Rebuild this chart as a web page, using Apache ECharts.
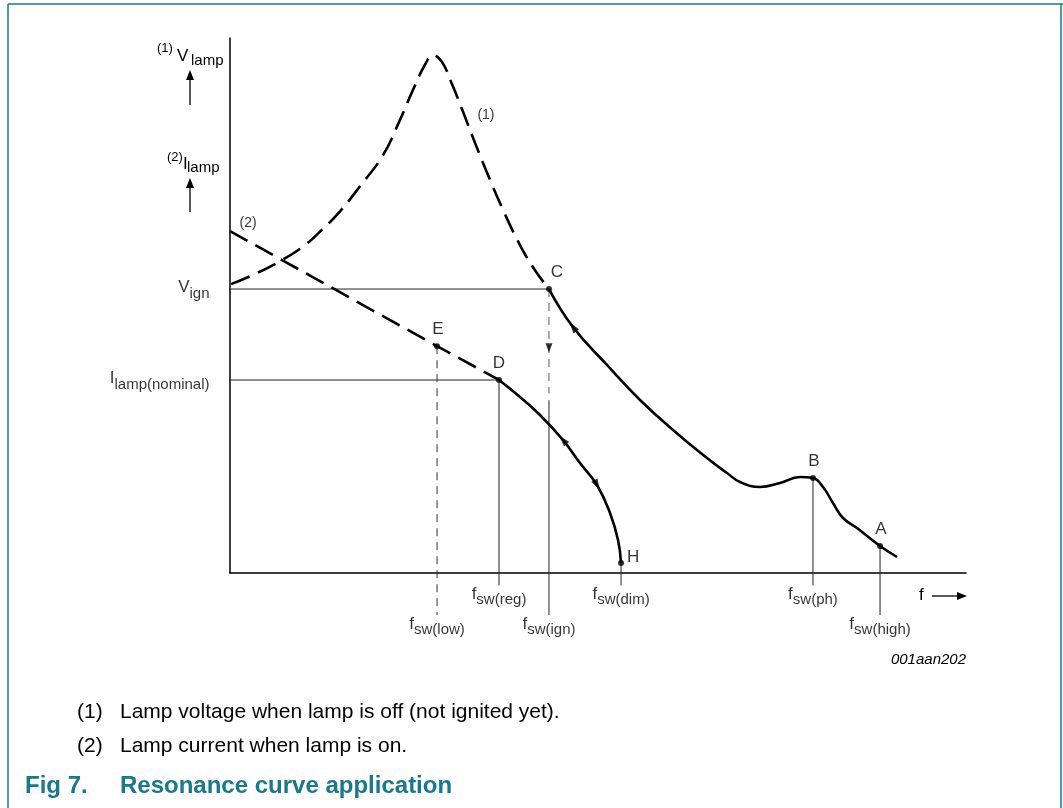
<!DOCTYPE html>
<html><head><meta charset="utf-8">
<script src="https://cdn.jsdelivr.net/npm/echarts@6/dist/echarts.min.js"></script>
<style>html,body{margin:0;padding:0;background:#fff;} #c{width:1063px;height:808px;}</style>
</head><body><div id="c"></div>
<script>
const FONT = '"Liberation Sans", Arial, Helvetica, sans-serif';
const TEAL = '#17798c';

// ---- data (arbitrary schematic units: f 0..100, amplitude 0..100) ----
// curve (1): lamp voltage, lamp off (dashed part up to ignition point C)
const voltageOff = [[0.14,54.0],[3.4,55.9],[7.07,58.5],[10.19,61.3],[12.23,63.8],[14.95,67.6],[17.66,72.3],[20.79,78.1],[23.1,84.7],[24.86,90.3],[26.49,95.0],[27.58,96.8],[28.8,95.5],[30.16,91.4],[31.66,86.2],[33.29,80.4],[35.05,74.4],[37.09,67.9],[39.4,61.3],[41.44,56.6],[43.34,53.1]];
// curve (1): solid part from C through B to A
const voltageSweep = [[43.34,53.08],[46.6,45.98],[51.22,38.88],[55.71,32.34],[60.19,26.73],[64.81,21.5],[67.53,18.69],[69.29,17.01],[72.01,16.07],[74.73,16.82],[77.45,17.94],[79.21,17.76],[80.57,16.07],[81.93,13.08],[83.29,10.28],[85.19,8.41],[88.32,5.05],[90.63,2.99]];
// curve (2): lamp current, lamp on (dashed part up to D)
const currentOn = [[0,63.9],[7.07,58.5],[28.13,42.4],[36.55,36.1]];
// curve (2): solid part from D to H (dimming)
const currentDim = [[36.55,36.07],[39.4,32.9],[42.12,29.53],[45.24,24.86],[47.55,20.56],[49.86,16.45],[51.63,11.21],[52.72,6.17],[53.13,1.87]];

// labelled operating points
const pointNames = ['C','E','D','B','A','H'];
const pointX = [43.34, 28.13, 36.55, 79.21, 88.32, 53.13];
const pointY = [53.08, 42.4, 36.07, 17.76, 5.05, 1.87];

// reference levels on the amplitude axis
const levelNames = ['V|ign', 'I|lamp(nominal)'];
const levelY = [53.08, 36.07];
const levelEndX = [43.34, 36.55];

// switching frequencies on the f axis
const freqNames = ['sw(low)','sw(reg)','sw(ign)','sw(dim)','sw(ph)','sw(high)'];
const freqX = [28.13, 36.55, 43.34, 53.13, 79.21, 88.32];
const freqTop = [42.4, 36.07, 32.3, 1.87, 17.76, 5.05];
const freqBottom = [-7.85, -2.3, -7.85, -2.3, -2.3, -7.85];
const freqDashed = [true, false, false, false, false, false];
const ignDashed = [[43.34, 53.08],[43.34, 33.6]];

// direction arrows on the curves: [x, y, rotation deg]
const curveArrows = [[46.6,45.98,37],[45.24,24.86,42],[49.86,16.45,208],[43.34,42.1,180]];

// curve tags
const curveTags = [['(1)',34.78,85.6],['(2)',2.45,65.4]];

// ---- chart ----
const chart = echarts.init(document.getElementById('c'), null, {renderer:'canvas'});
const black = '#000';
const guide = '#222';

const sub = {
  m: {fontSize:17, lineHeight:17, verticalAlign:'top', fontFamily:FONT, color:'#000'},
  s: {fontSize:15, lineHeight:22, verticalAlign:'bottom', fontFamily:FONT, color:'#000'}
};

const series = [];
series.push({type:'line', data:voltageOff, smooth:0.45, symbol:'none', lineStyle:{color:black,width:2.6,type:[20,9]}, z:5});
series.push({type:'line', data:voltageSweep, smooth:0.45, symbol:'none', lineStyle:{color:black,width:2.6}, z:5});
series.push({type:'line', data:currentOn, smooth:false, symbol:'none', lineStyle:{color:black,width:2.6,type:[20,9]}, z:5});
series.push({type:'line', data:currentDim, smooth:0.45, symbol:'none', lineStyle:{color:black,width:2.6}, z:5});

// horizontal level guides
levelY.forEach((y,i)=>{
  series.push({type:'line', data:[[-1.63,y],[levelEndX[i],y]], symbol:'none', clip:false,
    lineStyle:{color:guide,width:1}, z:3});
});
series.push({type:'scatter', clip:false, symbolSize:1, itemStyle:{color:'transparent'},
  data: levelY.map((y,i)=>({value:[-1.63,y], name:levelNames[i]})),
  label:{show:true, position:'left', distance:8, offset:[0,1], color:'#000',
    formatter:p=>{const t=p.name.split('|'); return '{m|'+t[0]+'}{s|'+t[1]+'}';}, rich:sub}, z:6});

// vertical frequency guides
freqX.forEach((x,i)=>{
  series.push({type:'line', data:[[x,freqTop[i]],[x,freqBottom[i]]], symbol:'none', clip:false,
    lineStyle:{color: freqDashed[i] ? '#333' : guide, width:1, type: freqDashed[i] ? [8,6] : 'solid'}, z:3});
});
series.push({type:'line', data:ignDashed, symbol:'none', clip:false,
  lineStyle:{color:'#555', width:1, type:[8,6]}, z:3});
series.push({type:'scatter', clip:false, symbolSize:1, itemStyle:{color:'transparent'},
  data: freqX.map((x,i)=>({value:[x,freqBottom[i]], name:freqNames[i]})),
  label:{show:true, position:'bottom', distance:0, color:'#000',
    formatter:p=>'{m|f}{s|'+p.name+'}', rich:sub}, z:6});

// operating points
const labelPos = {C:['top',[8,0]], E:['top',[1,0]], D:['top',[0,0]], B:['top',[1,0]], A:['top',[1,0]], H:['right',[-2,-6]]};
series.push({type:'scatter', symbolSize:6, itemStyle:{color:black}, clip:false,
  data: pointNames.map((n,i)=>({value:[pointX[i],pointY[i]], name:n,
    label:{position:labelPos[n][0], offset:labelPos[n][1]}})),
  label:{show:true, distance:5, formatter:'{b}', fontFamily:FONT, fontSize:17, color:black}, z:7});

// arrows
series.push({type:'scatter', clip:false, symbol:'triangle',
  data: curveArrows.map(a=>({value:[a[0],a[1]], symbolRotate:a[2], symbolSize: a[2]===180?[7,9]:[7,11]})),
  itemStyle:{color:black}, z:7});

// curve tags
series.push({type:'scatter', symbolSize:1, itemStyle:{color:'transparent'},
  data: curveTags.map(t=>({value:[t[1],t[2]], name:t[0]})),
  label:{show:true, position:'inside', formatter:'{b}', fontFamily:FONT, fontSize:14, color:black}, z:6});

const g = [];
// frame
g.push({type:'line', shape:{x1:8,y1:4,x2:1063,y2:4}, style:{stroke:TEAL,lineWidth:1.5}});
g.push({type:'line', shape:{x1:8,y1:4,x2:8,y2:808}, style:{stroke:TEAL,lineWidth:1.5}});
g.push({type:'line', shape:{x1:1061,y1:4,x2:1061,y2:808}, style:{stroke:TEAL,lineWidth:1.5}});
// y axis titles
function txt(x,y,t,size,extra){ return Object.assign({type:'text', x:x, y:y, style:{text:t, fontSize:size, fontFamily:FONT, fill:'#000', verticalAlign:'middle', align:'left'}}, extra||{}); }
g.push(txt(157,48,'(1)',13));
g.push(txt(177,56,'V',17));
g.push(txt(191,61,'lamp',15));
g.push({type:'line', shape:{x1:190,y1:105,x2:190,y2:78}, style:{stroke:'#000',lineWidth:1.3}});
g.push({type:'polygon', shape:{points:[[186,80],[190,70],[194,80]]}, style:{fill:'#000'}});
g.push(txt(167,157,'(2)',13));
g.push(txt(183,164,'I',17));
g.push(txt(187,168,'lamp',15));
g.push({type:'line', shape:{x1:190,y1:212,x2:190,y2:186}, style:{stroke:'#000',lineWidth:1.3}});
g.push({type:'polygon', shape:{points:[[186,188],[190,178],[194,188]]}, style:{fill:'#000'}});
// f axis title
g.push(txt(919,595,'f',17));
g.push({type:'line', shape:{x1:932,y1:596,x2:959,y2:596}, style:{stroke:'#000',lineWidth:1.3}});
g.push({type:'polygon', shape:{points:[[957,592],[967,596],[957,600]]}, style:{fill:'#000'}});
// figure code
g.push({type:'text', x:966, y:660, style:{text:'001aan202', fontSize:15, fontStyle:'italic', fontFamily:FONT, fill:'#000', align:'right', verticalAlign:'middle'}});
// notes
g.push(txt(77,712,'(1)',21));
g.push(txt(120,712,'Lamp voltage when lamp is off (not ignited yet).',21));
g.push(txt(77,746,'(2)',21));
g.push(txt(120,746,'Lamp current when lamp is on.',21));
g.push({type:'text', x:25, y:786, style:{text:'Fig 7.', fontSize:24, fontWeight:'bold', fontFamily:FONT, fill:TEAL, verticalAlign:'middle'}});
g.push({type:'text', x:120, y:786, style:{text:'Resonance curve application', fontSize:24, fontWeight:'bold', fontFamily:FONT, fill:TEAL, verticalAlign:'middle'}});

chart.setOption({
  animation:false,
  backgroundColor:'#fff',
  grid:{left:230, right:97, top:38, bottom:235, containLabel:false},
  xAxis:{type:'value', min:0, max:100, axisLine:{show:true, onZero:true, lineStyle:{color:'#000', width:1.5}}, axisTick:{show:false}, axisLabel:{show:false}, splitLine:{show:false}},
  yAxis:{type:'value', min:0, max:100, axisLine:{show:true, lineStyle:{color:'#000', width:1.5}}, axisTick:{show:false}, axisLabel:{show:false}, splitLine:{show:false}},
  series: series,
  graphic: g
});
</script></body></html>
